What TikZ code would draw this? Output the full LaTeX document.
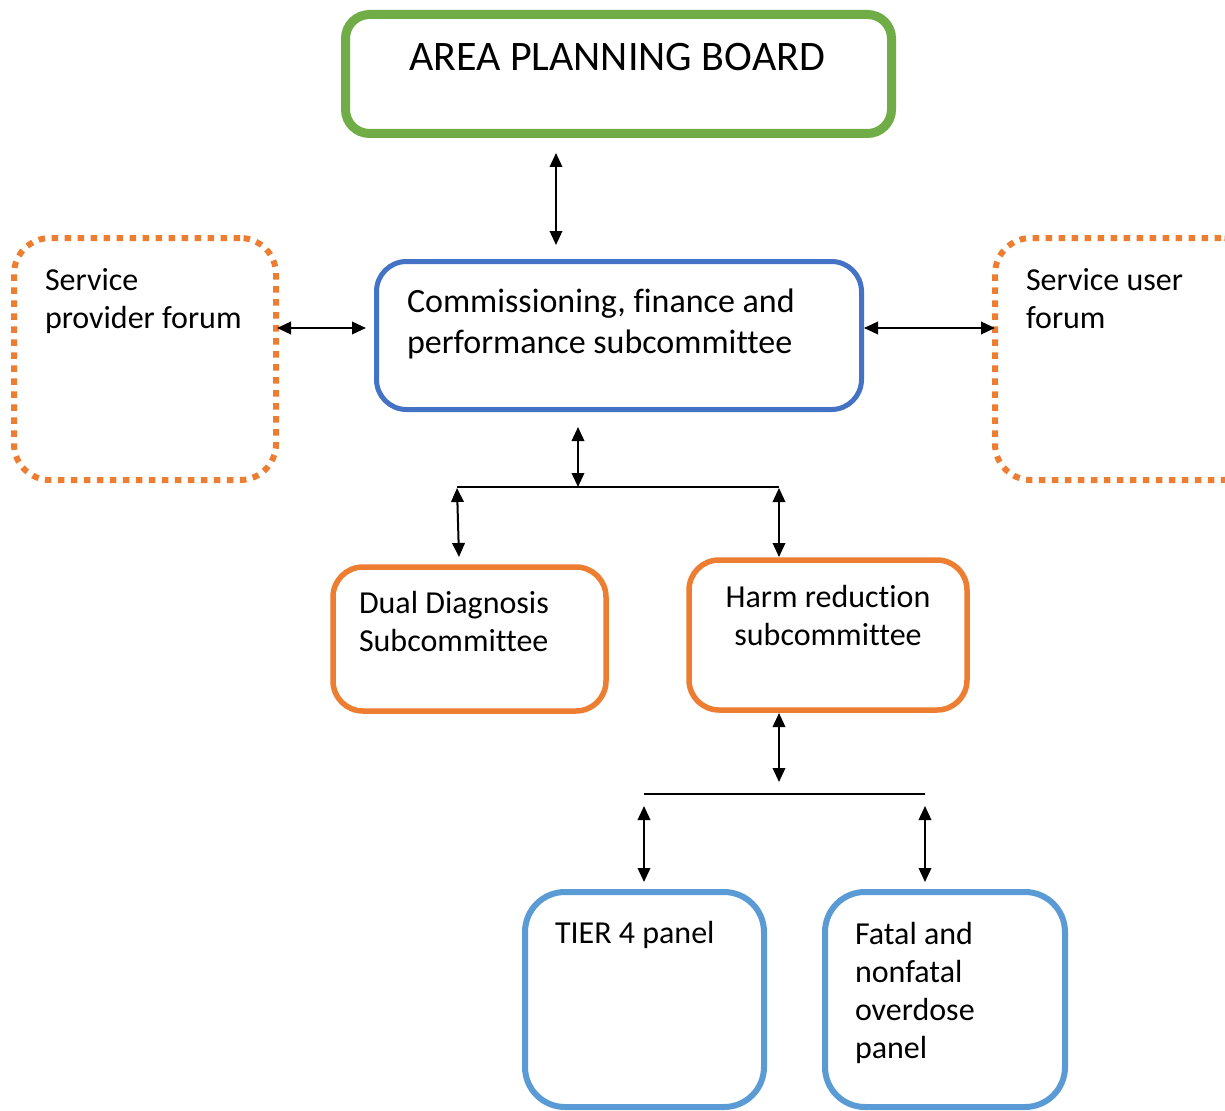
\documentclass[tikz,border=0pt]{standalone}
\usepackage{fontspec}
\setmainfont{Carlito}[Ligatures=NoCommon]
\usetikzlibrary{arrows.meta}
\definecolor{cgreen}{HTML}{70AD47}
\definecolor{cblue}{HTML}{4472C4}
\definecolor{corange}{HTML}{ED7D31}
\definecolor{clblue}{HTML}{5B9BD5}
\tikzset{
  box/.style={rectangle, draw, fill=white, inner sep=0pt, outer sep=0pt},
  boardbox/.style={box, draw=cgreen, line width=9pt, rounded corners=24pt},
  commbox/.style={box, draw=cblue, line width=5pt, rounded corners=30pt},
  forumbox/.style={box, draw=corange, line width=6pt, rounded corners=36pt, dash pattern=on 6.5pt off 6.5pt},
  subbox/.style={box, draw=corange, line width=5.5pt, rounded corners=30pt},
  panelbox/.style={box, draw=clblue, line width=6pt, rounded corners=40pt},
  txt/.style={inner sep=0pt, outer sep=0pt, align=left, anchor=base west, font=\fontsize{32}{38}\selectfont},
  dbl/.style={line width=2pt, {Triangle[length=14pt,width=12.5pt]}-{Triangle[length=14pt,width=12.5pt]}},
  bar/.style={line width=2pt},
}
\begin{document}
\begin{tikzpicture}[x=1pt, y=-1pt]
\clip (0,0) rectangle (1225,1110);
\fill[white] (0,0) rectangle (1225,1110);

% boxes
\node[boardbox, minimum width=546pt, minimum height=119pt] (board) at (618.5,74) {};
\node[commbox, minimum width=485pt, minimum height=148pt] (comm) at (619,335.5) {};
\node[forumbox, minimum width=262pt, minimum height=242pt] (spf) at (145,359) {};
\node[forumbox, minimum width=262pt, minimum height=242pt] (suf) at (1126,359) {};
\node[subbox, minimum width=273pt, minimum height=144pt] (dual) at (469.5,639) {};
\node[subbox, minimum width=278pt, minimum height=150pt] (harm) at (828,635) {};
\node[panelbox, minimum width=239pt, minimum height=215pt] (tier) at (644.5,999.5) {};
\node[panelbox, minimum width=240pt, minimum height=215pt] (fatal) at (945,999.5) {};

% texts (anchored at the baseline of the last line)
\node[inner sep=0pt, anchor=base, font=\fontsize{42}{50}\selectfont] (tboard) at (617,70.5) {AREA PLANNING BOARD};
\node[txt, font=\fontsize{34}{41}\selectfont] (tcomm) at (407,353) {Commissioning, finance and\\performance subcommittee};
\node[txt] (tspf) at (45,328) {Service\\provider forum};
\node[txt] (tsuf) at (1026,328) {Service user\\forum};
\node[txt] (tdual) at (359,651) {Dual Diagnosis\\Subcommittee};
\node[txt, align=center, anchor=base] (tharm) at (828,645) {Harm reduction\\subcommittee};
\node[txt] (ttier) at (555,943) {TIER 4 panel};
\node[txt] (tfatal) at (855,1058) {Fatal and\\nonfatal\\overdose\\panel};

% connector end points
\coordinate (b1) at (556,153);
\coordinate (b2) at (556,245);
\coordinate (l1) at (277,328);
\coordinate (l2) at (366,328);
\coordinate (r1) at (864,328);
\coordinate (r2) at (995,328);
\coordinate (j1top) at (578,427);
\coordinate (j1mid) at (578,487);
\coordinate (j1l) at (457,487);
\coordinate (j1r) at (779,487);
\coordinate (d1) at (457,488);
\coordinate (d2) at (459,557);
\coordinate (h1) at (779,488);
\coordinate (h2) at (779,557);
\coordinate (j2top) at (779,713);
\coordinate (j2mid) at (779,782);
\coordinate (j2l) at (644,794);
\coordinate (j2r) at (925,794);
\coordinate (t1) at (644,806);
\coordinate (t2) at (644,882);
\coordinate (f1) at (925,806);
\coordinate (f2) at (925,882);

\draw[dbl] (b1) -- (b2);
\draw[dbl] (l1) -- (l2);
\draw[dbl] (r1) -- (r2);
\draw[dbl] (j1top) -- (j1mid);
\draw[bar] (j1l) -- (j1r);
\draw[dbl] (d1) -- (d2);
\draw[dbl] (h1) -- (h2);
\draw[dbl] (j2top) -- (j2mid);
\draw[bar] (j2l) -- (j2r);
\draw[dbl] (t1) -- (t2);
\draw[dbl] (f1) -- (f2);
\end{tikzpicture}
\end{document}
